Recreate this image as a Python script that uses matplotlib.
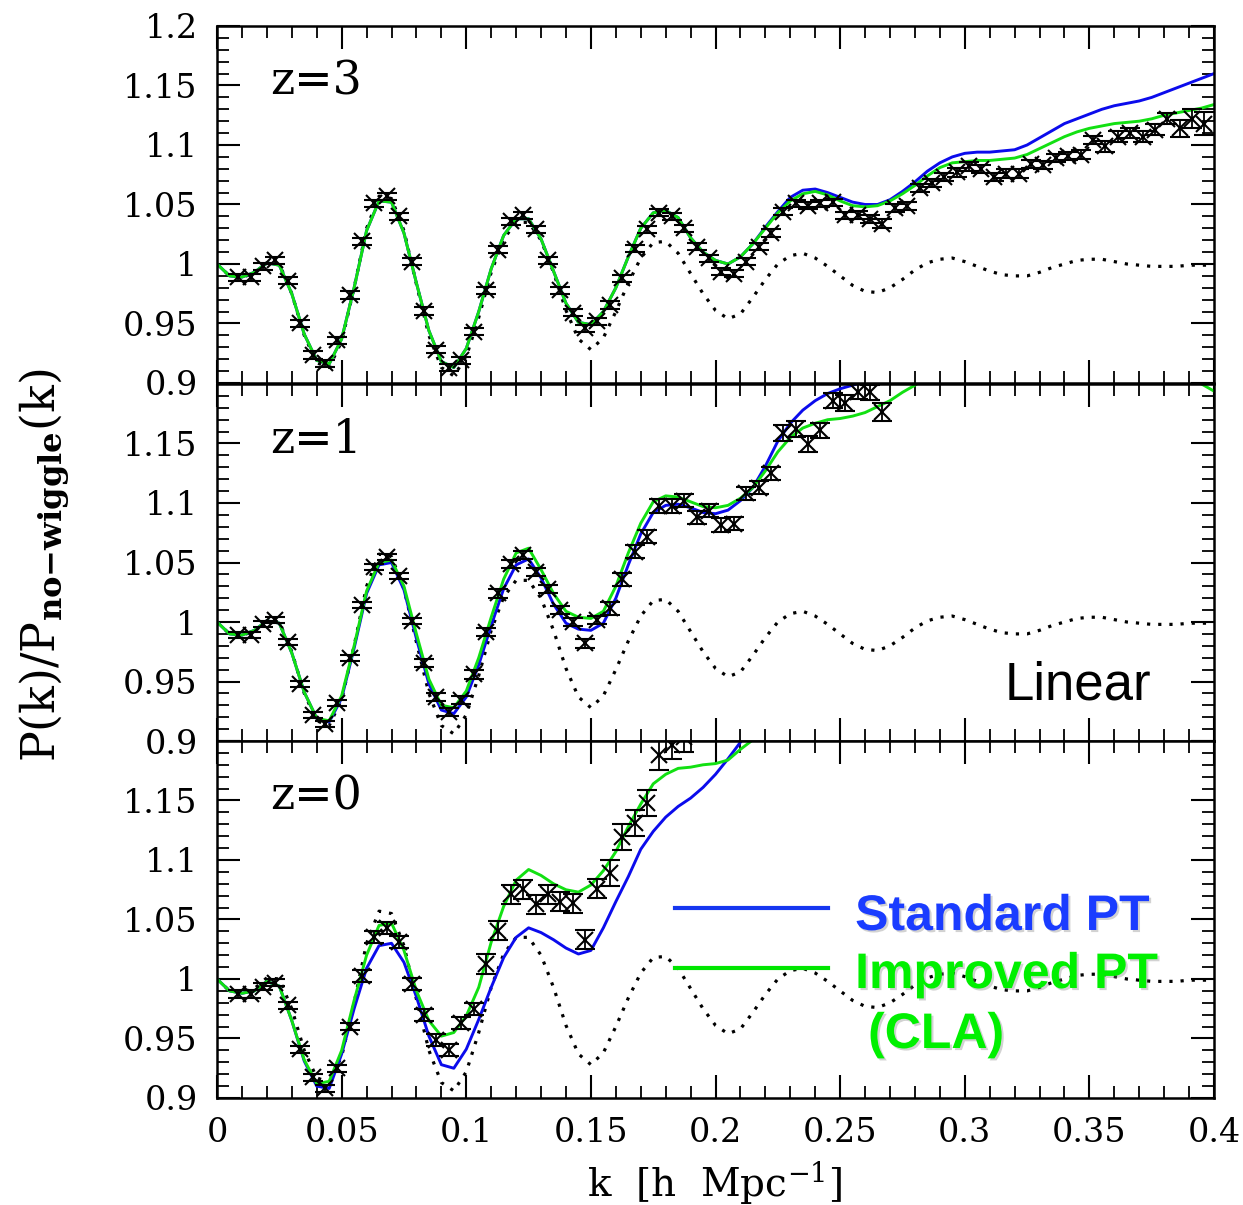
import numpy as np
import matplotlib.pyplot as plt
import matplotlib.patheffects as pe
from matplotlib.ticker import MultipleLocator, FormatStrFormatter

plt.rcParams['font.family'] = 'DejaVu Serif'
plt.rcParams['mathtext.fontset'] = 'dejavuserif'

# k grid of the model curves and k of the simulation bins
k_curve = np.linspace(0, 0.4, 81)
k_data = 0.0085 + 0.00497 * np.arange(79)

# linear theory (same at every redshift)
linear = [1.000, 0.990, 0.989, 0.992, 1.001, 1.000, 0.975, 0.940, 0.917, 0.913,
          0.935, 0.980, 1.030, 1.057, 1.055, 1.028, 0.983, 0.940, 0.913, 0.906,
          0.922, 0.955, 0.993, 1.021, 1.035, 1.035, 1.020, 0.993, 0.961, 0.937,
          0.928, 0.938, 0.960, 0.984, 1.005, 1.018, 1.019, 1.009, 0.992, 0.975,
          0.961, 0.954, 0.958, 0.972, 0.987, 1.000, 1.007, 1.009, 1.005, 0.998,
          0.990, 0.982, 0.977, 0.976, 0.980, 0.987, 0.995, 1.001, 1.004, 1.005,
          1.002, 0.998, 0.994, 0.991, 0.990, 0.990, 0.993, 0.997, 1.000, 1.003,
          1.004, 1.004, 1.002, 1.000, 0.999, 0.998, 0.998, 0.998, 0.999, 0.999,
          0.999]

# z=3
spt_z3 = [1.000, 0.990, 0.989, 0.993, 1.001, 0.999, 0.975, 0.941, 0.919, 0.916,
          0.937, 0.980, 1.028, 1.053, 1.052, 1.026, 0.984, 0.944, 0.918, 0.913,
          0.929, 0.960, 0.996, 1.024, 1.038, 1.038, 1.021, 0.994, 0.967, 0.951,
          0.949, 0.960, 0.980, 1.006, 1.030, 1.043, 1.045, 1.039, 1.022, 1.010,
          1.003, 1.000, 1.006, 1.017, 1.031, 1.044, 1.056, 1.062, 1.063, 1.060,
          1.056, 1.052, 1.050, 1.050, 1.054, 1.061, 1.069, 1.078, 1.085, 1.090,
          1.093, 1.094, 1.094, 1.095, 1.096, 1.100, 1.106, 1.112, 1.118, 1.122,
          1.126, 1.130, 1.133, 1.135, 1.137, 1.140, 1.144, 1.148, 1.152, 1.156,
          1.160]
cla_z3 = [1.000, 0.990, 0.989, 0.993, 1.001, 0.999, 0.975, 0.941, 0.919, 0.916,
          0.937, 0.980, 1.028, 1.053, 1.052, 1.026, 0.984, 0.944, 0.918, 0.913,
          0.929, 0.960, 0.996, 1.024, 1.038, 1.038, 1.021, 0.994, 0.967, 0.951,
          0.949, 0.960, 0.980, 1.006, 1.030, 1.043, 1.045, 1.039, 1.022, 1.010,
          1.003, 1.000, 1.006, 1.017, 1.030, 1.043, 1.053, 1.059, 1.061, 1.058,
          1.053, 1.049, 1.048, 1.049, 1.053, 1.059, 1.066, 1.074, 1.081, 1.085,
          1.086, 1.087, 1.087, 1.088, 1.089, 1.092, 1.097, 1.102, 1.107, 1.111,
          1.114, 1.116, 1.118, 1.119, 1.120, 1.122, 1.125, 1.127, 1.129, 1.131,
          1.134]
nbody_z3 = [0.989, 0.989, 0.998, 1.003, 0.986, 0.950, 0.9235, 0.9165, 0.936, 0.974,
            1.019, 1.051, 1.057, 1.040, 1.002, 0.9605, 0.928, 0.913, 0.919, 0.943,
            0.978, 1.012, 1.036, 1.041, 1.029, 1.003, 0.978, 0.959, 0.946, 0.952,
            0.9655, 0.988, 1.013, 1.029, 1.043, 1.040, 1.030, 1.0146, 1.0048, 0.9936,
            0.992, 1.002, 1.0146, 1.026, 1.044, 1.051, 1.049, 1.051, 1.052, 1.041,
            1.041, 1.038, 1.034, 1.047, 1.049, 1.064, 1.068, 1.073, 1.077, 1.082,
            1.080, 1.073, 1.076, 1.076, 1.084, 1.083, 1.089, 1.091, 1.092, 1.104,
            1.099, 1.107, 1.110, 1.107, 1.113, 1.122, 1.114, 1.122, 1.118]
err_z3 = [0.003, 0.003, 0.003, 0.003, 0.003, 0.003, 0.003, 0.003, 0.003, 0.003,
          0.003, 0.003, 0.003, 0.003, 0.003, 0.003, 0.003, 0.003, 0.003, 0.003,
          0.003, 0.003, 0.003, 0.003, 0.003, 0.003, 0.003, 0.003, 0.003, 0.003,
          0.003, 0.003, 0.003, 0.003, 0.003, 0.003, 0.003, 0.003, 0.003, 0.003,
          0.003, 0.003, 0.003, 0.003, 0.003, 0.003, 0.003, 0.003, 0.003, 0.003,
          0.0035, 0.0035, 0.0035, 0.0035, 0.0035, 0.0035, 0.0035, 0.0035, 0.0035, 0.0035,
          0.0035, 0.0035, 0.0035, 0.0035, 0.0035, 0.0035, 0.0035, 0.0035, 0.0035, 0.0035,
          0.0045, 0.0045, 0.0045, 0.0045, 0.0045, 0.0045, 0.007, 0.008, 0.010]

# z=1
spt_z1 = [1.000, 0.990, 0.989, 0.993, 1.001, 0.999, 0.974, 0.941, 0.919, 0.916,
          0.936, 0.978, 1.024, 1.048, 1.050, 1.027, 0.986, 0.948, 0.926, 0.923,
          0.937, 0.964, 0.997, 1.028, 1.048, 1.053, 1.037, 1.015, 0.999, 0.994,
          0.993, 0.999, 1.020, 1.048, 1.074, 1.092, 1.098, 1.099, 1.096, 1.092,
          1.091, 1.094, 1.102, 1.113, 1.131, 1.152, 1.167, 1.178, 1.186, 1.192,
          1.196, 1.199, 1.202]
cla_z1 = [1.000, 0.990, 0.989, 0.993, 1.001, 0.999, 0.974, 0.941, 0.919, 0.917,
          0.938, 0.980, 1.026, 1.050, 1.052, 1.030, 0.990, 0.952, 0.930, 0.928,
          0.942, 0.970, 1.004, 1.036, 1.058, 1.062, 1.044, 1.024, 1.009, 1.004,
          1.003, 1.009, 1.030, 1.058, 1.083, 1.101, 1.106, 1.105, 1.101, 1.097,
          1.096, 1.098, 1.104, 1.113, 1.127, 1.143, 1.155, 1.163, 1.167, 1.170,
          1.171, 1.173, 1.176, 1.181, 1.186, 1.193, 1.199, 1.206, np.nan, np.nan,
          np.nan, np.nan, np.nan, np.nan, np.nan, np.nan, np.nan, np.nan, np.nan, np.nan,
          np.nan, np.nan, np.nan, np.nan, np.nan, np.nan, np.nan, np.nan, 1.206, 1.200,
          1.194]
nbody_z1 = [0.989, 0.989, 0.998, 1.002, 0.9835, 0.948, 0.922, 0.914, 0.932, 0.9695,
            1.0143, 1.0465, 1.055, 1.0387, 1.001, 0.9653, 0.937, 0.9246, 0.9345, 0.956,
            0.9918, 1.024, 1.049, 1.0563, 1.042, 1.0275, 1.010, 1.000, 0.982, 1.0017,
            1.0115, 1.036, 1.059, 1.0717, 1.0975, 1.0975, 1.102, 1.088, 1.0935, 1.0815,
            1.0824, 1.108, 1.113, 1.125, 1.159, 1.162, 1.1496, 1.161, 1.186, 1.184,
            1.1935, 1.193, 1.1767]
err_z1 = [0.0025, 0.0025, 0.0025, 0.0025, 0.0025, 0.0025, 0.0025, 0.0025, 0.0025, 0.0025,
          0.0025, 0.0025, 0.0025, 0.0025, 0.0025, 0.0035, 0.0035, 0.0035, 0.0035, 0.0035,
          0.0035, 0.0035, 0.0035, 0.0035, 0.0035, 0.0035, 0.0035, 0.0035, 0.0035, 0.0035,
          0.0055, 0.0055, 0.0055, 0.0055, 0.0055, 0.0055, 0.0055, 0.0055, 0.0055, 0.0055,
          0.0055, 0.0055, 0.0055, 0.0055, 0.0065, 0.0065, 0.0065, 0.0065, 0.0065, 0.0065,
          0.0065, 0.0065, 0.0075]

# z=0
spt_z0 = [1.000, 0.990, 0.988, 0.990, 0.998, 0.994, 0.965, 0.931, 0.910, 0.908,
          0.937, 0.975, 1.009, 1.028, 1.030, 1.014, 0.985, 0.952, 0.928, 0.925,
          0.941, 0.966, 0.993, 1.018, 1.035, 1.043, 1.039, 1.033, 1.026, 1.021,
          1.024, 1.043, 1.065, 1.086, 1.109, 1.124, 1.136, 1.145, 1.152, 1.161,
          1.172, 1.185, 1.199, 1.212]
cla_z0 = [1.000, 0.990, 0.988, 0.990, 0.998, 0.994, 0.965, 0.932, 0.912, 0.914,
          0.940, 0.982, 1.020, 1.045, 1.047, 1.024, 0.990, 0.965, 0.952, 0.955,
          0.969, 0.993, 1.031, 1.061, 1.083, 1.092, 1.087, 1.080, 1.075, 1.073,
          1.079, 1.091, 1.107, 1.128, 1.147, 1.164, 1.172, 1.177, 1.178, 1.180,
          1.181, 1.184, 1.193, 1.201]
nbody_z0 = [0.9874, 0.9874, 0.9936, 0.997, 0.978, 0.941, 0.9174, 0.908, 0.925, 0.960,
            1.0025, 1.035, 1.0426, 1.0314, 0.9958, 0.9697, 0.949, 0.9403, 0.9633, 0.9745,
            1.0126, 1.0406, 1.0714, 1.0754, 1.063, 1.0714, 1.065, 1.0636, 1.0328, 1.076,
            1.0888, 1.119, 1.131, 1.148, 1.188, 1.1966, 1.203]
err_z0 = [0.003, 0.003, 0.003, 0.003, 0.003, 0.003, 0.003, 0.003, 0.003, 0.003,
          0.005, 0.005, 0.005, 0.005, 0.005, 0.005, 0.005, 0.005, 0.005, 0.005,
          0.008, 0.008, 0.008, 0.008, 0.008, 0.008, 0.008, 0.008, 0.008, 0.008,
          0.011, 0.011, 0.011, 0.011, 0.012, 0.012, 0.012]

panels = [('z=3', spt_z3, cla_z3, nbody_z3, err_z3),
          ('z=1', spt_z1, cla_z1, nbody_z1, err_z1),
          ('z=0', spt_z0, cla_z0, nbody_z0, err_z0)]

yticks = [0.9, 0.95, 1.0, 1.05, 1.1, 1.15, 1.2]
blue = '#0b0bec'
green = '#12e012'

fig = plt.figure(figsize=(12.43, 12.05), dpi=100)
bottoms = [0.68216, 0.38506, 0.08880]
axes = []
for i, (zlab, spt, cla, nb, err) in enumerate(panels):
    ax = fig.add_axes([0.1746, bottoms[i], 0.8021, 0.29627])
    axes.append(ax)
    ax.plot(k_curve, linear, color='k', lw=2.3, ls=(0, (1, 2.5)))
    ax.plot(k_curve[:len(spt)], spt, color=blue, lw=2.1)
    ax.plot(k_curve[:len(cla)], cla, color=green, lw=2.1)
    ax.errorbar(k_data[:len(nb)], nb, yerr=err, fmt='x', color='k', ms=11.5,
                mew=1.5, elinewidth=1.3, capsize=7, capthick=1.3)

    ax.set_xlim(0, 0.4)
    ax.set_ylim(0.9, 1.2)
    ax.xaxis.set_major_locator(MultipleLocator(0.05))
    ax.xaxis.set_minor_locator(MultipleLocator(0.01))
    ax.yaxis.set_minor_locator(MultipleLocator(0.01))
    ax.set_yticks(yticks)
    labels = ['%g' % v for v in yticks]
    if i > 0:
        labels[-1] = ''
    ax.set_yticklabels(labels)
    ax.xaxis.set_major_formatter(FormatStrFormatter('%g'))
    ax.tick_params(which='both', direction='in', top=True, right=True)
    ax.tick_params(which='major', length=16.5, width=1.5, labelsize=24, pad=14)
    ax.tick_params(which='minor', length=8.5, width=1.3)
    if i < 2:
        ax.tick_params(labelbottom=False)
    for s in ax.spines.values():
        s.set_linewidth(1.8)
    ax.text(0.053, 0.843, zlab, transform=ax.transAxes, fontsize=33,
            va='center', ha='left')

axes[1].text(0.79, 0.115, 'Linear', transform=axes[1].transAxes,
             family='Liberation Sans', fontsize=38, ha='left', va='baseline')

# hand-drawn legend in the z=0 panel
ax = axes[2]
shadow = [pe.withSimplePatchShadow(offset=(1.5, -1.5), shadow_rgbFace='0.5', alpha=0.35)]
ax.plot([0.4594, 0.6128], [0.532, 0.532], transform=ax.transAxes, color='#1636f0', lw=3)
ax.plot([0.4594, 0.6128], [0.365, 0.365], transform=ax.transAxes, color='#00e600', lw=3)
ax.text(0.640, 0.4706, 'Standard PT', transform=ax.transAxes, family='Liberation Sans',
        weight='bold', fontsize=36, color='#1a3cff', va='baseline', path_effects=shadow)
ax.text(0.640, 0.308, 'Improved PT', transform=ax.transAxes, family='Liberation Sans',
        weight='bold', fontsize=36, color='#00f000', va='baseline', path_effects=shadow)
ax.text(0.653, 0.140, '(CLA)', transform=ax.transAxes, family='Liberation Sans',
        weight='bold', fontsize=36, color='#00f000', va='baseline', path_effects=shadow)

fig.text(0.575, 0.018, r'k  [h  Mpc$^{-1}$]', fontsize=28, ha='center', va='center')
fig.text(0.036, 0.531, r'$\mathrm{P(k)/P_{\mathbf{no{-}wiggle}}(k)}$', fontsize=33,
         rotation=90, ha='center', va='center')

fig.savefig('out.png', dpi=100)
